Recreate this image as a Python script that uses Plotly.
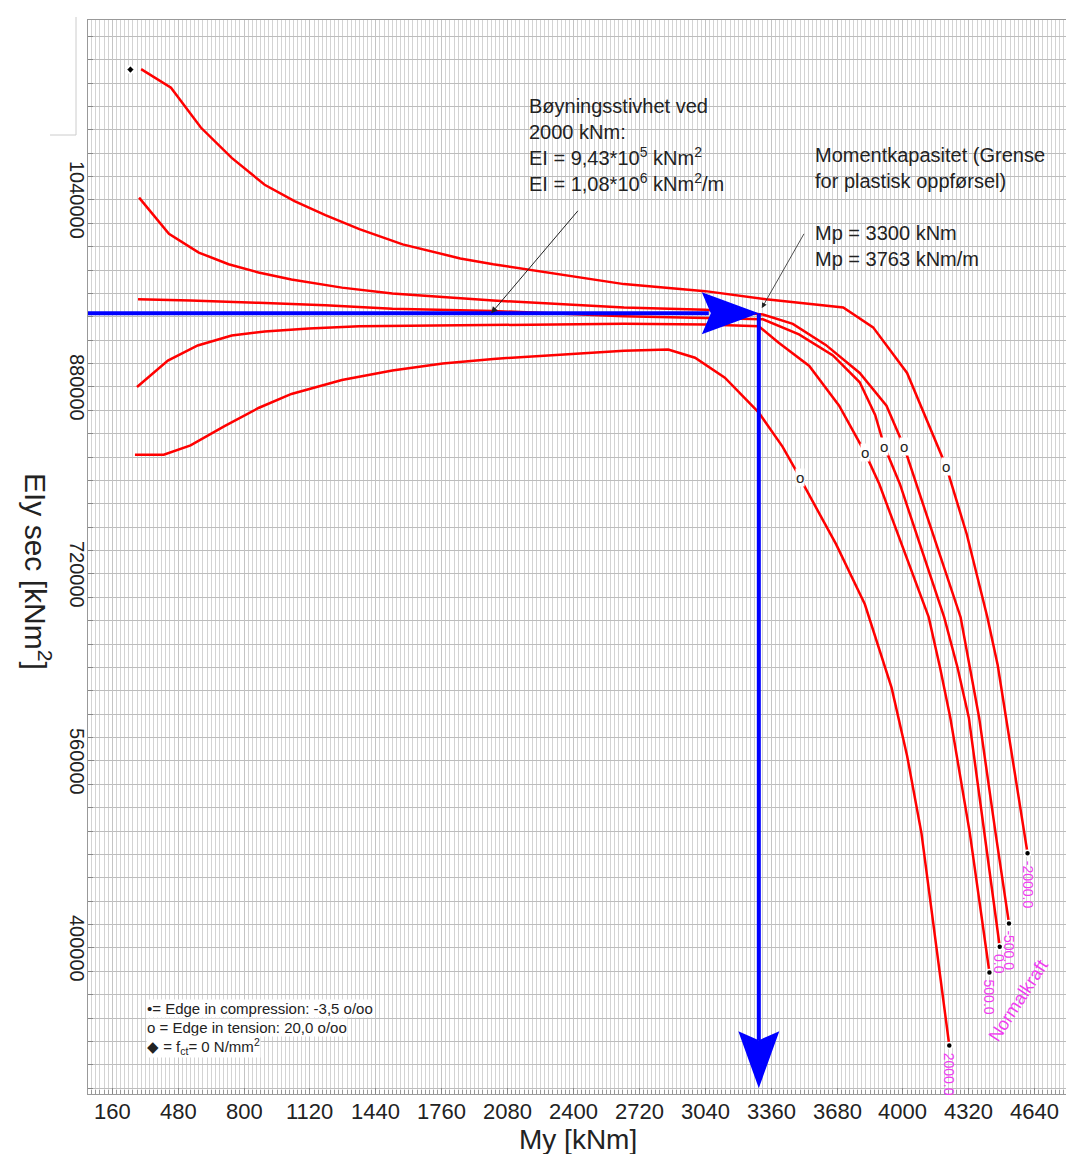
import plotly.graph_objects as go

# ---------------- data ----------------
# Curves of EIy sec versus My for different normal forces
my_m2000 = [300, 445, 590, 740, 900, 1045, 1195, 1360, 1570, 1850, 2010, 2645, 3040, 3335,
            3710, 3855, 4020, 4115, 4210, 4310, 4410, 4460, 4530, 4605]
ei_m2000 = [1152000, 1136000, 1102000, 1076000, 1053000, 1039000, 1027000, 1015000, 1002000,
            990000, 985000, 968000, 962000, 955000, 948000, 931000, 892000, 852000, 812000,
            754000, 683000, 642000, 565000, 481000]

my_m500 = [290, 435, 580, 725, 870, 1030, 1275, 1520, 1765, 2010, 2645, 3040, 3320, 3465,
           3625, 3790, 3920, 4005, 4065, 4280, 4325, 4370, 4450, 4515]
ei_m500 = [1042000, 1011000, 995000, 985000, 978000, 972000, 965000, 960000, 957000, 954000,
           948000, 946000, 942000, 934000, 916000, 892000, 864000, 829000, 797000, 683000,
           640000, 597000, 498000, 421000]

my_0 = [285, 540, 870, 1195, 1520, 1765, 2010, 2645, 3040, 3320, 3495, 3660, 3790, 3865,
        3910, 3985, 4200, 4265, 4320, 4395, 4470]
ei_0 = [955000, 954000, 952000, 950000, 947000, 946000, 945000, 940400, 938700, 937900,
        925000, 907000, 884000, 856000, 829000, 797000, 683000, 640000, 597000, 498000, 401000]

my_500 = [280, 430, 575, 740, 900, 1115, 1360, 1685, 2010, 2645, 3040, 3300, 3395, 3545,
          3690, 3815, 3885, 4125, 4180, 4230, 4325, 4420]
ei_500 = [880000, 902500, 915500, 924000, 927500, 930000, 932000, 932500, 933500, 934000,
          933500, 932000, 918000, 898000, 864000, 824000, 797000, 683000, 640000, 597000,
          498000, 379000]

my_2000 = [270, 410, 540, 705, 870, 1030, 1275, 1520, 1765, 2010, 2645, 2860, 2990, 3135,
           3300, 3415, 3500, 3520, 3675, 3815, 3945, 4020, 4090, 4225]
ei_2000 = [822000, 822000, 830000, 846500, 862000, 874000, 886000, 894000, 900000, 904000,
           911000, 912000, 905000, 888000, 858000, 829000, 802500, 795500, 745500, 694000,
           622500, 564500, 498000, 316500]

curve_labels = ["-2000.0", "-500.0", "0.0", "500.0", "2000.0"]

# "o" = edge in tension 20,0 o/oo
tension_my = [3500, 3815, 3910, 4005, 4210]
tension_ei = [802500, 824000, 829000, 829000, 812000]

# diamond = f_ct = 0
fct_my = [248]
fct_ei = [1151600]

# design point
Mp = 3300
EI_2000 = 943000
arrow_bottom = 280000

# tick labels
x_ticks = [160, 480, 800, 1120, 1440, 1760, 2080, 2400, 2720, 3040, 3360, 3680, 4000, 4320, 4640]
y_ticks = [400000, 560000, 720000, 880000, 1040000]

# ---------------- layout constants ----------------
# the page body adds an 8 px margin, so the figure is 8 px smaller and the
# left/top margins are 8 px smaller to keep the plot area at 88..1064 x 20..1086
W, H = 1066, 1146
ML, MR, MT, MB = 80, 2, 12, 60
PW, PH = W - ML - MR, H - MT - MB
X_RANGE = [42, 4821]
Y_RANGE = [275000, 1194000]
xpp = (X_RANGE[1] - X_RANGE[0]) / PW   # data units per pixel
ypp = (Y_RANGE[1] - Y_RANGE[0]) / PH

RED = "#ff0000"
BLUE = "#0000ff"
MAG = "#f03cf0"
TXT = "#222222"
FONT = "Arial, 'Liberation Sans', sans-serif"

fig = go.Figure()

curves = [(my_m2000, ei_m2000), (my_m500, ei_m500), (my_0, ei_0), (my_500, ei_500), (my_2000, ei_2000)]
for xs, ys in curves:
    fig.add_trace(go.Scatter(x=xs, y=ys, mode="lines", line=dict(color=RED, width=2.5),
                             showlegend=False, hoverinfo="skip"))

# blue arrows (lines + filled heads)
fig.add_trace(go.Scatter(x=[X_RANGE[0], Mp - 50 * xpp], y=[EI_2000, EI_2000], mode="lines",
                         line=dict(color=BLUE, width=4), showlegend=False, hoverinfo="skip"))
fig.add_trace(go.Scatter(
    x=[Mp, Mp - 57 * xpp, Mp - 48 * xpp, Mp - 57 * xpp, Mp],
    y=[EI_2000, EI_2000 + 21 * ypp, EI_2000, EI_2000 - 21 * ypp, EI_2000],
    mode="lines", fill="toself", fillcolor=BLUE, line=dict(color=BLUE, width=0),
    showlegend=False, hoverinfo="skip"))
fig.add_trace(go.Scatter(x=[Mp, Mp], y=[EI_2000, arrow_bottom + 48 * ypp], mode="lines",
                         line=dict(color=BLUE, width=4), showlegend=False, hoverinfo="skip"))
fig.add_trace(go.Scatter(
    x=[Mp, Mp - 20.5 * xpp, Mp, Mp + 20.5 * xpp, Mp],
    y=[arrow_bottom, arrow_bottom + 57 * ypp, arrow_bottom + 48 * ypp, arrow_bottom + 57 * ypp, arrow_bottom],
    mode="lines", fill="toself", fillcolor=BLUE, line=dict(color=BLUE, width=0),
    showlegend=False, hoverinfo="skip"))

# end dots (edge in compression)
fig.add_trace(go.Scatter(x=[c[0][-1] for c in curves], y=[c[1][-1] for c in curves], mode="markers",
                         marker=dict(color="black", size=6, line=dict(color="white", width=1.5)),
                         showlegend=False, hoverinfo="skip"))
# diamond (fct = 0)
fig.add_trace(go.Scatter(x=fct_my, y=fct_ei, mode="markers",
                         marker=dict(symbol="diamond", color="black", size=7, line=dict(color="white", width=2)),
                         showlegend=False, hoverinfo="skip"))


def px_x(p):
    """paper x for a page pixel column"""
    return (p - 88) / PW


def px_y(p):
    """paper y for a page pixel row"""
    return (1086 - p) / PH


annotations = []
# tick labels
for v in x_ticks:
    annotations.append(dict(x=v, y=px_y(1103), xref="x", yref="paper", text=str(v), showarrow=False,
                            xanchor="center", yanchor="middle", height=22,
                            font=dict(family=FONT, size=22, color=TXT)))
for v in y_ticks:
    annotations.append(dict(x=px_x(77), y=v, xref="paper", yref="y", text=str(v), showarrow=False,
                            textangle=90, xanchor="center", yanchor="middle",
                            font=dict(family=FONT, size=20, color=TXT)))

# tension markers "o"
for xv, yv in zip(tension_my, tension_ei):
    annotations.append(dict(x=xv, y=yv, xref="x", yref="y", text="o", showarrow=False,
                            xanchor="center", yanchor="middle",
                            font=dict(family=FONT, size=15, color=TXT), bgcolor="white", borderpad=0))
# normal force labels
for (xs, ys), lab in zip(curves, curve_labels):
    annotations.append(dict(x=xs[-1], y=ys[-1], xref="x", yref="y", text=lab, showarrow=False,
                            textangle=90, xanchor="center", yanchor="top", yshift=-5,
                            font=dict(family=FONT, size=14, color=MAG)))
annotations.append(dict(x=px_x(1018), y=px_y(993), xref="paper", yref="paper", text="Normalkraft",
                        xanchor="center", yanchor="middle",
                        showarrow=False, textangle=-57, font=dict(family=FONT, size=18, color=MAG)))

# explanation texts with arrows
annotations.append(dict(x=px_x(527), y=px_y(85), xref="paper", yref="paper", xanchor="left", yanchor="top",
                        align="left", showarrow=False,
                        text="Bøyningsstivhet ved<br>2000 kNm:<br>EI = 9,43*10<sup>5</sup> kNm<sup>2</sup>"
                             "<br>EI = 1,08*10<sup>6</sup> kNm<sup>2</sup>/m",
                        font=dict(family=FONT, size=20, color=TXT)))
annotations.append(dict(x=2000, y=EI_2000, xref="x", yref="y", ax=88, ay=-104, text="",
                        showarrow=True, arrowhead=2, arrowsize=1.3, arrowwidth=1, arrowcolor=TXT,
                        standoff=0))
annotations.append(dict(x=px_x(813), y=px_y(134), xref="paper", yref="paper", xanchor="left", yanchor="top",
                        align="left", showarrow=False,
                        text="Momentkapasitet (Grense<br>for plastisk oppførsel)<br> <br>Mp = 3300 kNm"
                             "<br>Mp = 3763 kNm/m",
                        font=dict(family=FONT, size=20, color=TXT)))
annotations.append(dict(x=Mp, y=EI_2000, xref="x", yref="y", ax=46, ay=-81, text="",
                        showarrow=True, arrowhead=2, arrowsize=1.3, arrowwidth=0.8, arrowcolor=TXT,
                        standoff=6))

# legend box
legend_lines = ["•= Edge in compression: -3,5 o/oo",
                "o = Edge in tension: 20,0 o/oo",
                "◆ = f<sub>ct</sub>= 0 N/mm<sup>2</sup>"]
for i, t in enumerate(legend_lines):
    annotations.append(dict(x=px_x(146), y=px_y(1000 + 19 * i), xref="paper", yref="paper", xanchor="left",
                            yanchor="middle", text=t, showarrow=False, bgcolor="white", borderpad=0,
                            font=dict(family=FONT, size=15, color=TXT)))

# axis titles
annotations.append(dict(x=px_x(578), y=px_y(1131), xref="paper", yref="paper", text="My [kNm]",
                        showarrow=False, xanchor="center", yanchor="middle", height=32,
                        font=dict(family=FONT, size=28, color=TXT)))
annotations.append(dict(x=px_x(38), y=px_y(563), xref="paper", yref="paper", text="EIy sec [kNm<sup>2</sup>]",
                        showarrow=False, textangle=90, xanchor="center", yanchor="middle",
                        font=dict(family=FONT, size=30, color=TXT)))

fig.update_layout(
    width=W, height=H, autosize=False,
    margin=dict(l=ML, r=MR, t=MT, b=MB, autoexpand=False),
    paper_bgcolor="white", plot_bgcolor="white",
    font=dict(family=FONT, color=TXT),
    showlegend=False,
    annotations=annotations,
    shapes=[
        dict(type="line", xref="paper", yref="paper", x0=px_x(76), x1=px_x(76), y0=px_y(9), y1=px_y(127),
             line=dict(color="#cccccc", width=1)),
        dict(type="line", xref="paper", yref="paper", x0=px_x(50), x1=px_x(76), y0=px_y(127), y1=px_y(127),
             line=dict(color="#cccccc", width=1)),
    ],
)
fig.update_xaxes(
    range=X_RANGE, tickvals=x_ticks, showticklabels=False, showgrid=True, gridcolor="#c4c4c4", gridwidth=1,
    ticks="inside", ticklen=6, tickcolor="#888", showline=True, mirror=True, linecolor="#999",
    zeroline=False, automargin=False,
    minor=dict(dtick=20, tick0=0, showgrid=True, gridcolor="#d3d3d3", gridwidth=1,
               ticks="inside", ticklen=4, tickcolor="#999"),
)
fig.update_yaxes(
    range=Y_RANGE, tickvals=y_ticks, showticklabels=False, showgrid=True, gridcolor="#bdbdbd",
    gridwidth=1.3, ticks="inside", ticklen=6, tickcolor="#888", showline=True, mirror=True,
    linecolor="#999", zeroline=False, automargin=False,
    minor=dict(dtick=20000, tick0=0, showgrid=True, gridcolor="#bdbdbd", gridwidth=1.3,
               ticks="inside", ticklen=5, tickcolor="#888"),
)

fig.write_html("out.html")
